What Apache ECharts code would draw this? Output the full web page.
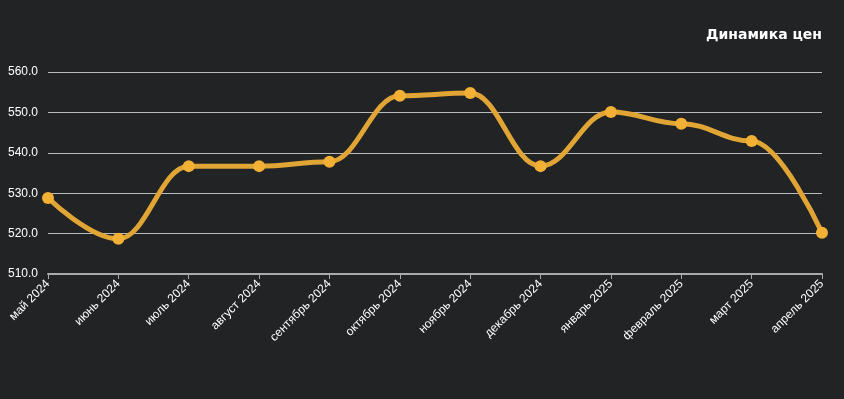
<!DOCTYPE html>
<html>
<head>
<meta charset="utf-8">
<script src="https://cdn.jsdelivr.net/npm/echarts@6/dist/echarts.min.js"></script>
<style type="text/css">
html, body{margin:0;padding:0;background:#222325;}
#main{width:844px;height:399px;}
</style>
</head>
<body>
<div id="main"></div>
<script>
    // месяцы
    var months = ['май 2024', 'июнь 2024', 'июль 2024', 'август 2024', 'сентябрь 2024', 'октябрь 2024',
        'ноябрь 2024', 'декабрь 2024', 'январь 2025', 'февраль 2025', 'март 2025', 'апрель 2025'];
    // цены
    var prices = [528.8, 518.7, 536.7, 536.7, 537.8, 554.1, 554.8, 536.7, 550.1, 547.2, 542.9, 520.2];
    var yMin = 510, yMax = 560, yStep = 10;

    var chart = echarts.init(document.getElementById('main'));

    var option = {
        backgroundColor: '#222325',
        animation: false,
        title: {
            text: 'Динамика цен',
            right: 17,
            top: 23,
            textStyle: {color: '#fff', fontSize: 14, fontWeight: 'bold', fontFamily: 'DejaVu Sans'}
        },
        grid: {left: 48, right: 22, top: 72, bottom: 125},
        xAxis: {
            type: 'category',
            data: months,
            boundaryGap: false,
            axisLine: {lineStyle: {color: '#aaa', width: 2}},
            axisTick: {show: true, length: 5, lineStyle: {color: '#aaa'}},
            axisLabel: {color: '#fff', rotate: 45, fontSize: 12, fontFamily: 'Liberation Sans', margin: 8, interval: 0}
        },
        yAxis: {
            type: 'value',
            min: yMin,
            max: yMax,
            interval: yStep,
            axisLine: {show: false},
            axisTick: {show: false},
            axisLabel: {
                color: '#fff', fontSize: 12, fontFamily: 'Liberation Sans', margin: 10,
                formatter: function (v) { return v.toFixed(1); }
            },
            splitLine: {lineStyle: {color: '#bbb', width: 1}}
        },
        series: [{
            type: 'line',
            data: prices,
            smooth: 0.4,
            smoothMonotone: 'x',
            symbol: 'circle',
            symbolSize: 12,
            itemStyle: {color: '#f2b035'},
            lineStyle: {color: '#e0a535', width: 5}
        }]
    };

    chart.setOption(option);
</script>
</body>
</html>
